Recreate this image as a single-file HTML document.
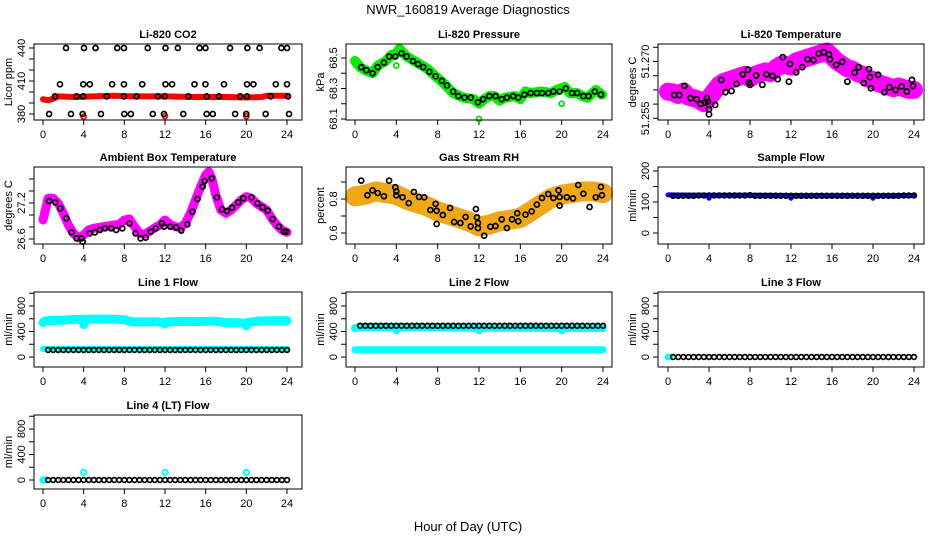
<!DOCTYPE html>
<html><head><meta charset="utf-8"><style>
html,body{margin:0;padding:0;background:#fff;}
svg{display:block;font-family:"Liberation Sans",sans-serif;}
</style></head><body>
<svg id="chart" width="936" height="540" viewBox="0 0 936 540">
<rect x="0" y="0" width="936" height="540" fill="#fff"/>
<text x="468" y="14" text-anchor="middle" font-size="13">NWR_160819  Average Diagnostics</text>
<text x="468" y="531" text-anchor="middle" font-size="13">Hour of Day (UTC)</text>
</svg>
<script>
// ---------------- DATA ----------------
const xTickVals=[0,4,8,12,16,20,24];
const co2RedHours=[0,0.5,1,1.5,3,5,7,9,12,15,18,20,21.5,22,24];
const co2RedVals=[393.5,392.5,394,396,395.5,396,396.5,396,396,395.5,395.5,395,395.5,396.5,396.5];
const co2RedOutHours=[4,12,20];
const co2RedOutVals=[377.5,378,378];
const co2BlackHours=[2.26,4.03,5.17,7.3,7.96,10.3,12.05,13.26,15.4,15.98,18.4,20.1,21.3,23.45,24,
1.67,3.96,4.6,6.8,7.96,9.76,12.05,12.7,14.9,15.98,17.8,20.07,20.7,22.9,24,
1.18,3.3,3.96,6.25,7.96,9.2,11.3,11.98,14.3,16.1,17.3,19.4,20.07,22.4,24.1,
0.6,2.75,3.9,5.7,8,8.64,10.8,11.9,13.8,16.1,16.7,18.9,20,21.9,24.2];
const co2BlackVals=[440,440,440,440,440,440,440,440,440,440,440,440,440,440,440,
407,407,407,407,407,407,407,407,407,407,407,407,407,407,407,
396,396,396,396,396,396,396,396,396,396,396,396,396,396,396,
380,380,380,380,380,380,380,380,380,380,380,380,380,380,380];

const presHours=[0,0.5,1,1.7,2.2,3,3.5,4,4.3,5,6,7,7.8,8.5,9.5,10.5,11.5,12,12.5,13,13.5,14,14.5,15.5,16,16.5,17,18,19,19.5,20.3,20.8,21.5,22,22.5,23.3,23.9];
const presVals=[68.48,68.44,68.42,68.40,68.45,68.48,68.52,68.53,68.56,68.51,68.47,68.43,68.38,68.34,68.27,68.24,68.23,68.20,68.23,68.25,68.25,68.22,68.24,68.25,68.23,68.28,68.27,68.28,68.27,68.29,68.31,68.27,68.27,68.25,68.24,68.29,68.26];
const presOutHours=[4,12,20];
const presOutVals=[68.45,68.10,68.20];
const presBlackHours=[0.6,1.1,1.7,2.2,2.8,3.3,3.9,4.5,5,5.6,6.1,6.6,7.2,7.8,8.4,8.9,9.5,10,10.6,11.2,11.9,12.4,13,13.6,14.2,14.7,15.3,15.8,16.4,17,17.6,18.1,18.7,19.2,19.8,20.4,21,21.5,22.1,22.6,23.2,23.8];
const presBlackVals=[68.44,68.42,68.40,68.44,68.47,68.51,68.51,68.53,68.51,68.48,68.46,68.44,68.41,68.38,68.35,68.32,68.28,68.25,68.24,68.24,68.21,68.23,68.25,68.25,68.23,68.24,68.25,68.24,68.26,68.27,68.27,68.27,68.27,68.28,68.28,68.30,68.27,68.27,68.25,68.25,68.28,68.26];

const tempHours=[0,0.5,1,1.5,2,2.5,3,3.5,4,4.5,5,5.5,6,6.5,7,7.5,8,8.5,9,9.5,10,10.5,11,11.5,12,12.5,13,13.5,14,14.5,15,15.5,16,16.5,17,17.5,18,18.5,19,19.5,20,20.5,21,21.5,22,22.5,23,23.5,24];
const tempVals=[51.2594,51.2591,51.2582,51.2594,51.2576,51.2571,51.2565,51.2553,51.2571,51.2594,51.2618,51.2629,51.2635,51.2641,51.2647,51.2653,51.2641,51.2653,51.2659,51.2665,51.2659,51.2676,51.2688,51.2688,51.2682,51.2700,51.2706,51.2712,51.2718,51.2724,51.2729,51.2735,51.2718,51.2700,51.2688,51.2676,51.2671,51.2659,51.2653,51.2641,51.2635,51.2624,51.2618,51.2612,51.2606,51.2612,51.2606,51.2600,51.2600];
const tempBlackHours=[0.6,1.1,1.6,2.2,2.8,3.2,3.6,3.9,4,4,3.8,4.6,5.2,5.6,6.2,6.7,7.3,7.8,7.9,8,8.6,9.2,9.6,10.2,10.7,11.2,11.8,11.9,12.5,13.1,13.6,14.2,14.7,15.2,15.7,15.8,16.4,17,17.5,18.2,18.6,19.1,19.6,19.7,19.8,20.5,21.1,21.6,22.2,22.8,23.3,23.8,23.9];
const tempBlackVals=[51.2582,51.2582,51.2614,51.2571,51.2567,51.2551,51.2555,51.2559,51.2532,51.2514,51.2571,51.2547,51.2635,51.2592,51.2596,51.2621,51.2655,51.2671,51.2626,51.2618,51.2651,51.2618,51.2655,51.2649,51.2638,51.2715,51.2629,51.2691,51.2662,51.2680,51.2708,51.2705,51.2728,51.2733,51.2725,51.2708,51.2688,51.2699,51.2629,51.2661,51.2680,51.2624,51.2673,51.2645,51.2606,51.2653,51.2592,51.2609,51.2600,51.2612,51.2594,51.2635,51.2614];

const ambHours=[0,0.2,0.5,1,1.5,2,2.5,3,3.5,4,4.5,5,6,7,7.5,8,8.5,9,9.5,10,10.5,11,11.5,12,12.5,13,13.5,14,14.5,15,15.5,16,16.3,16.6,17,17.5,18,18.5,19,19.5,20,20.5,21,21.5,22,22.5,23,23.5,24];
const ambVals=[26.917,27.056,27.278,27.278,27.194,27.028,26.833,26.694,26.622,26.667,26.75,26.778,26.806,26.833,26.844,26.917,26.933,26.806,26.694,26.678,26.733,26.789,26.833,26.917,26.844,26.806,26.789,26.861,27.028,27.25,27.472,27.667,27.722,27.611,27.333,27.083,27.028,27.083,27.167,27.25,27.306,27.278,27.194,27.139,27.083,26.944,26.833,26.75,26.711];
const ambBlackHours=[0.6,1.2,1.7,2.3,2.8,3.3,3.8,3.9,4.6,5.1,5.6,6.1,6.7,7.2,7.8,8.5,9.1,9.6,10.1,10.6,11.1,11.7,11.9,12.5,13.1,13.6,14.2,14.7,15.2,15.7,15.9,16.6,17.1,17.6,18.1,18.6,19.2,19.7,20.5,21.1,21.6,22.1,22.6,23.2,23.7,23.9];
const ambBlackVals=[27.233,27.211,27.111,26.944,26.711,26.611,26.611,26.556,26.694,26.711,26.75,26.778,26.778,26.75,26.778,26.861,26.694,26.611,26.622,26.722,26.778,26.861,26.806,26.806,26.794,26.739,26.844,27.056,27.267,27.472,27.567,27.611,27.294,27.094,27.067,27.122,27.211,27.278,27.294,27.194,27.128,27.072,26.933,26.806,26.722,26.722];

const rhHours=[0,1,2,3,4,5,6,7,8,9,10,11,12,13,14,15,16,17,18,19,20,21,22,23,24];
const rhVals=[0.816,0.825,0.845,0.835,0.825,0.796,0.776,0.757,0.727,0.708,0.688,0.669,0.639,0.649,0.669,0.678,0.688,0.727,0.767,0.806,0.825,0.835,0.845,0.845,0.835];
const rhBlackHours=[0.6,1.2,1.7,2.2,2.8,3.3,3.9,4,4,4.6,5.2,5.7,6.2,6.7,7.3,7.8,7.9,7.9,8.5,9.2,9.6,10.2,10.7,11.2,11.7,11.8,11.9,11.9,12.5,13.1,13.6,14.2,14.7,15.2,15.7,15.8,16.5,17.1,17.6,18.1,18.7,19.2,19.7,19.8,19.8,20.5,21.1,21.6,22.1,22.7,23.3,23.8,23.9];
const rhBlackVals=[0.908,0.822,0.851,0.835,0.816,0.908,0.869,0.845,0.822,0.810,0.776,0.841,0.812,0.810,0.735,0.771,0.731,0.653,0.706,0.747,0.665,0.659,0.694,0.639,0.741,0.692,0.659,0.629,0.584,0.637,0.641,0.680,0.629,0.680,0.716,0.669,0.708,0.727,0.767,0.806,0.829,0.806,0.851,0.812,0.761,0.810,0.804,0.882,0.831,0.753,0.810,0.871,0.822];

const flowHours=[0.5,1,1.5,2,2.5,3,3.5,4,4.5,5,5.5,6,6.5,7,7.5,8,8.5,9,9.5,10,10.5,11,11.5,12,12.5,13,13.5,14,14.5,15,15.5,16,16.5,17,17.5,18,18.5,19,19.5,20,20.5,21,21.5,22,22.5,23,23.5,24];
const sampleBlackVals=[120,120,120,120,120,121,121,121,121,121,121,121,121,121,121,122,120,120,120,120,120,120,120,120,120,120,120,120,120,120,120,120,120,120,120,120,120,120,120,120,120,120,120,120,120,121,121,121];
const sampleBlueHours=[0,3.9,4,4.1,8,11.9,12,12.1,19.9,20,20.1,24];
const sampleBlueVals=[123,122,112,122,122,121,112,121,120,112,120,121];
const line1BlackVals=[110,110,110,110,110,110,110,110,110,110,110,110,110,110,110,110,110,110,110,110,110,110,110,110,110,110,110,110,110,110,110,110,110,110,110,110,110,110,110,110,110,110,110,110,110,110,110,110];
const line1UpperHours=[0,0.3,1,2,3,3.9,4,4.1,5,6,7,8,8.5,9,10,11,11.9,12,12.1,13,14,15,16,17,18,19,19.9,20,20.1,21,22,23,24];
const line1UpperVals=[540,570,575,575,590,590,510,590,595,595,595,585,560,550,550,555,540,520,550,555,560,555,560,560,540,540,530,490,540,560,570,570,570];
const line1LowerHours=[0,24];
const line1LowerVals=[125,125];
const line2BlackVals=[490,490,490,490,490,490,490,490,490,490,490,490,490,490,490,490,490,490,490,490,490,490,490,490,490,490,490,490,490,490,490,490,490,490,490,490,490,490,490,490,490,490,490,490,490,490,490,490];
const line2UpperHours=[0,0.5,3.9,4,4.1,8,11.9,12,12.1,16,19.9,20,20.1,24];
const line2UpperVals=[450,470,470,420,470,465,460,420,460,460,455,420,460,455];
const line2LowerHours=[0,24];
const line2LowerVals=[115,115];
const line3BlackVals=[0,0,0,0,0,0,0,0,0,0,0,0,0,0,0,0,0,0,0,0,0,0,0,0,0,0,0,0,0,0,0,0,0,0,0,0,0,0,0,0,0,0,0,0,0,0,0,0];
const line3CyanHours=[0,0.2];
const line3CyanVals=[0,0];
const line4BlackVals=[0,0,0,0,0,0,0,0,0,0,0,0,0,0,0,0,0,0,0,0,0,0,0,0,0,0,0,0,0,0,0,0,0,0,0,0,0,0,0,0,0,0,0,0,0,0,0,0];
const line4CyanHours=[0,0.2,4,12,20];
const line4CyanVals=[0,0,120,120,120];

const co2Ticks=[380,390,400,410,420,430,440];
const co2Labels=["380","","","410","","","440"];
const presTicks=[68.1,68.2,68.3,68.4,68.5];
const presLabels=["68.1","","68.3","","68.5"];
const tempTicks=[51.250,51.255,51.260,51.265,51.270,51.275];
const tempLabels=["51.255","","","","51.270",""];
const ambTicks=[26.6,26.8,27.0,27.2,27.4,27.6];
const ambLabels=["26.6","","","27.2","",""];
const rhTicks=[0.6,0.7,0.8,0.9];
const rhLabels=["0.6","","0.8",""];
const sampleTicks=[0,50,100,150,200];
const sampleLabels=["0","","100","","200"];
const flowTicks=[0,200,400,600,800,1000];
const flowLabels=["0","","400","","800",""];

// ---------------- DRAWING ----------------
const NS="http://www.w3.org/2000/svg";
const svg=document.getElementById('chart');
function mk(tag,attrs,parent){const e=document.createElementNS(NS,tag);for(const k in attrs)e.setAttribute(k,attrs[k]);(parent||svg).appendChild(e);return e;}
const colL=[34,346,658],colR=[302,612,924],colX0=[43,355,668],colX24=[287,603,914];
const rowT=[44,167,292,415],rowB=[120,244,367,489];

function makePanel(name,col,row,title,ylab,ticks,labels,v1,p1,v2,p2){
  const g=mk('g',{});
  
  
  const L=colL[col],R=colR[col],T=rowT[row],B=rowB[row];
  const sx=h=>colX0[col]+h/24*(colX24[col]-colX0[col]);
  const sy=v=>p1+(v-v1)*(p2-p1)/(v2-v1);
  const t=mk('text',{x:(L+R)/2,y:T-6,'text-anchor':'middle','font-size':11,'font-weight':'bold'},g);
  t.textContent=title;
  
  
  const yl=mk('text',{x:0,y:0,'text-anchor':'middle','font-size':11,transform:`translate(${L-22},${(T+B)/2}) rotate(-90)`},g);
  yl.textContent=ylab;
  
  
  const ys=ticks.map(sy);
  mk('line',{x1:L,x2:L,y1:Math.min(...ys),y2:Math.max(...ys),stroke:'#000','stroke-width':1},g);
  ticks.forEach((v,i)=>{
    const y=sy(v);
    const tk=mk('line',{x1:L-5,x2:L,y1:y,y2:y,stroke:'#000','stroke-width':1},g);
    
    
    if(labels[i]){
      const lb=mk('text',{x:0,y:0,'text-anchor':'middle','font-size':11,transform:`translate(${L-9},${y}) rotate(-90)`},g);
      lb.textContent=labels[i];
      
      
    }
  });
  xTickVals.forEach(h=>{
    const x=sx(h);
    const tk=mk('line',{x1:x,x2:x,y1:B,y2:B+5,stroke:'#000','stroke-width':1},g);
    
    
    const lb=mk('text',{x:x,y:B+18,'text-anchor':'middle','font-size':11},g);
    lb.textContent=String(h);
    
    
  });
  const plot=mk('g',{},g);
  const box=mk('rect',{x:L,y:T,width:R-L,height:B-T,fill:'none',stroke:'#000','stroke-width':1},g);
  
  
  return {g:plot,sx,sy,name};
}
function band(p,hours,vals,color,w,nm){
  const pts=hours.map((h,i)=>p.sx(h).toFixed(1)+','+p.sy(vals[i]).toFixed(1)).join(' ');
  const e=mk('polyline',{points:pts,fill:'none',stroke:color,'stroke-width':w,'stroke-linejoin':'round','stroke-linecap':'round'},p.g);
  
  
}
function pts(p,hours,vals,color,r,nm,sw){
  hours.forEach((h,i)=>{
    const c=mk('circle',{cx:p.sx(h),cy:p.sy(vals[i]),r:r,fill:'none',stroke:color,'stroke-width':sw||1.7},p.g);
    
    
  });
}

let p;
p=makePanel('co2',0,0,'Li-820 CO2','Licor ppm',co2Ticks,co2Labels,380,114,440,48);
band(p,co2RedHours,co2RedVals,'#ff0000',6,'co2-red-series');
pts(p,co2RedOutHours,co2RedOutVals,'#ff0000',2.5,'co2-red-outlier');
pts(p,co2BlackHours,co2BlackVals,'#000',2.5,'co2-black-point');

p=makePanel('pressure',1,0,'Li-820 Pressure','kPa',presTicks,presLabels,68.1,119,68.5,58);
band(p,presHours,presVals,'#00ee00',10,'pressure-green-series');
pts(p,presOutHours,presOutVals,'#00dd00',2.5,'pressure-green-outlier');
pts(p,presBlackHours,presBlackVals,'#000',2.5,'pressure-black-point');

p=makePanel('temperature',2,0,'Li-820 Temperature','degrees C',tempTicks,tempLabels,51.250,118.3,51.275,47.3);
band(p,tempHours,tempVals,'#ff00ff',18,'temperature-magenta-series');
pts(p,tempBlackHours,tempBlackVals,'#000',2.6,'temperature-black-point');

p=makePanel('ambient',0,1,'Ambient Box Temperature','degrees C',ambTicks,ambLabels,26.6,239,27.2,203);
band(p,ambHours,ambVals,'#ff00ff',9,'ambient-magenta-series');
pts(p,ambBlackHours,ambBlackVals,'#000',2.5,'ambient-black-point');

p=makePanel('rh',1,1,'Gas Stream RH','percent',rhTicks,rhLabels,0.6,233,0.8,199);
band(p,rhHours,rhVals,'#f0a818',20,'rh-orange-series');
pts(p,rhBlackHours,rhBlackVals,'#000',2.5,'rh-black-point');

p=makePanel('sample-flow',2,1,'Sample Flow','ml/min',sampleTicks,sampleLabels,0,233,200,171);
band(p,sampleBlueHours,sampleBlueVals,'#0000ff',5,'sample-flow-blue-series');
pts(p,flowHours,sampleBlackVals,'#000',2.4,'sample-flow-black-point');

p=makePanel('line1-flow',0,2,'Line 1 Flow','ml/min',flowTicks,flowLabels,0,357,800,306);
band(p,line1UpperHours,line1UpperVals,'#00ffff',9,'line1-cyan-upper-series');
band(p,line1LowerHours,line1LowerVals,'#00ffff',6,'line1-cyan-lower-series');
pts(p,flowHours,line1BlackVals,'#000',2.4,'line1-black-point');

p=makePanel('line2-flow',1,2,'Line 2 Flow','ml/min',flowTicks,flowLabels,0,357,800,306);
band(p,line2UpperHours,line2UpperVals,'#00ffff',8,'line2-cyan-upper-series');
band(p,line2LowerHours,line2LowerVals,'#00ffff',7,'line2-cyan-lower-series');
pts(p,flowHours,line2BlackVals,'#000',2.4,'line2-black-point');

p=makePanel('line3-flow',2,2,'Line 3 Flow','ml/min',flowTicks,flowLabels,0,357,800,306);
pts(p,line3CyanHours,line3CyanVals,'#00ffff',2.4,'line3-cyan-point',2);
pts(p,flowHours,line3BlackVals,'#000',2.4,'line3-black-point');

p=makePanel('line4-flow',0,3,'Line 4 (LT) Flow','ml/min',flowTicks,flowLabels,0,480,800,429);
pts(p,line4CyanHours,line4CyanVals,'#00ffff',2.6,'line4-cyan-point',2);
pts(p,flowHours,line4BlackVals,'#000',2.4,'line4-black-point');
</script>
</body></html>
